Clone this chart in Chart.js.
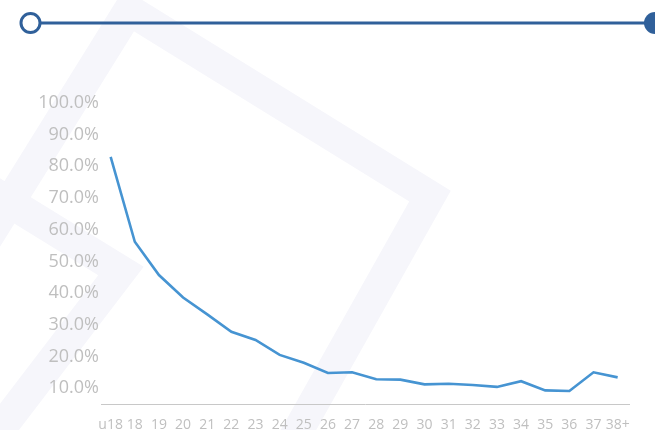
<!DOCTYPE html>
<html>
<head>
<meta charset="utf-8">
<script src="https://cdn.jsdelivr.net/npm/chart.js@4"></script>
<style>
  html, body { margin: 0; padding: 0; background: #fff; }
  #wrap { width: 655px; height: 430px; position: relative; }
</style>
</head>
<body>
<div id="wrap"><canvas id="chart-age"></canvas></div>
<script>
/* ── DATA ── */
const ageLabels = ['u18','18','19','20','21','22','23','24','25','26','27','28','29','30','31','32','33','34','35','36','37','38+'];
const shareValues = [83.0,56.2,45.7,38.6,33.3,27.8,25.2,20.5,18.0,14.8,15.0,12.8,12.7,11.2,11.4,11.0,10.4,12.2,9.3,9.1,15.0,13.4];
const yTickValues = [10,20,30,40,50,60,70,80,90,100];

const tickGrey = '#bfbfbf';
const navy = '#30609a';

/* ── BACKGROUND WATERMARK + HEADER RULE ── */
const decor = {
  id: 'decor',
  beforeDraw(chart) {
    const c = chart.ctx;
    c.save();
    c.strokeStyle = '#f6f6fb';
    c.lineWidth = 31;
    c.lineJoin = 'miter';
    const paths = [
      [[-14,240],[129,10],[430,196],[290,445]],
      [[-30,178],[121,271],[-12,445]]
    ];
    paths.forEach(p => {
      c.beginPath();
      p.forEach(([x, y], i) => i ? c.lineTo(x, y) : c.moveTo(x, y));
      c.stroke();
    });

    // header rule with end markers
    c.strokeStyle = navy;
    c.lineWidth = 3;
    c.beginPath();
    c.moveTo(40, 23); c.lineTo(650, 23);
    c.stroke();
    c.beginPath();
    c.arc(30.5, 23, 9.5, 0, Math.PI * 2);
    c.fillStyle = '#fff';
    c.fill();
    c.stroke();
    c.beginPath();
    c.arc(655, 23, 11, 0, Math.PI * 2);
    c.fillStyle = navy;
    c.fill();
    c.restore();
  }
};

/* ── CHART ── */
new Chart(document.getElementById('chart-age'), {
  type: 'line',
  data: {
    datasets: [{
      data: shareValues.map((v, i) => ({ x: i, y: v })),
      borderColor: '#4694d2',
      borderWidth: 2.6,
      pointRadius: 0,
      tension: 0,
      fill: false
    }]
  },
  options: {
    responsive: true,
    maintainAspectRatio: false,
    animation: false,
    layout: { padding: { top: 103, right: 26, left: 0, bottom: 0 } },
    plugins: { legend: { display: false }, tooltip: { enabled: false } },
    scales: {
      x: {
        type: 'linear',
        min: -0.4,
        max: 21.47,
        afterBuildTicks: s => { s.ticks = ageLabels.map((_, i) => ({ value: i })); },
        afterFit: s => { s.height = 26; },
        grid: { display: false, drawTicks: false },
        border: { color: '#c8c8c8', width: 1 },
        ticks: {
          color: tickGrey, padding: 13, maxRotation: 0, autoSkip: false,
          font: { family: 'Open Sans', size: 14 },
          callback: v => ageLabels[v]
        }
      },
      y: {
        min: 5,
        max: 100,
        afterBuildTicks: s => { s.ticks = yTickValues.map(v => ({ value: v })); },
        afterFit: s => { s.width = 101; },
        grid: { display: false, drawTicks: false },
        border: { display: false },
        ticks: {
          color: tickGrey, padding: 2, autoSkip: false,
          font: { family: 'Open Sans', size: 18 },
          callback: v => v.toFixed(1) + '%'
        }
      }
    }
  },
  plugins: [decor]
});
</script>
</body>
</html>
